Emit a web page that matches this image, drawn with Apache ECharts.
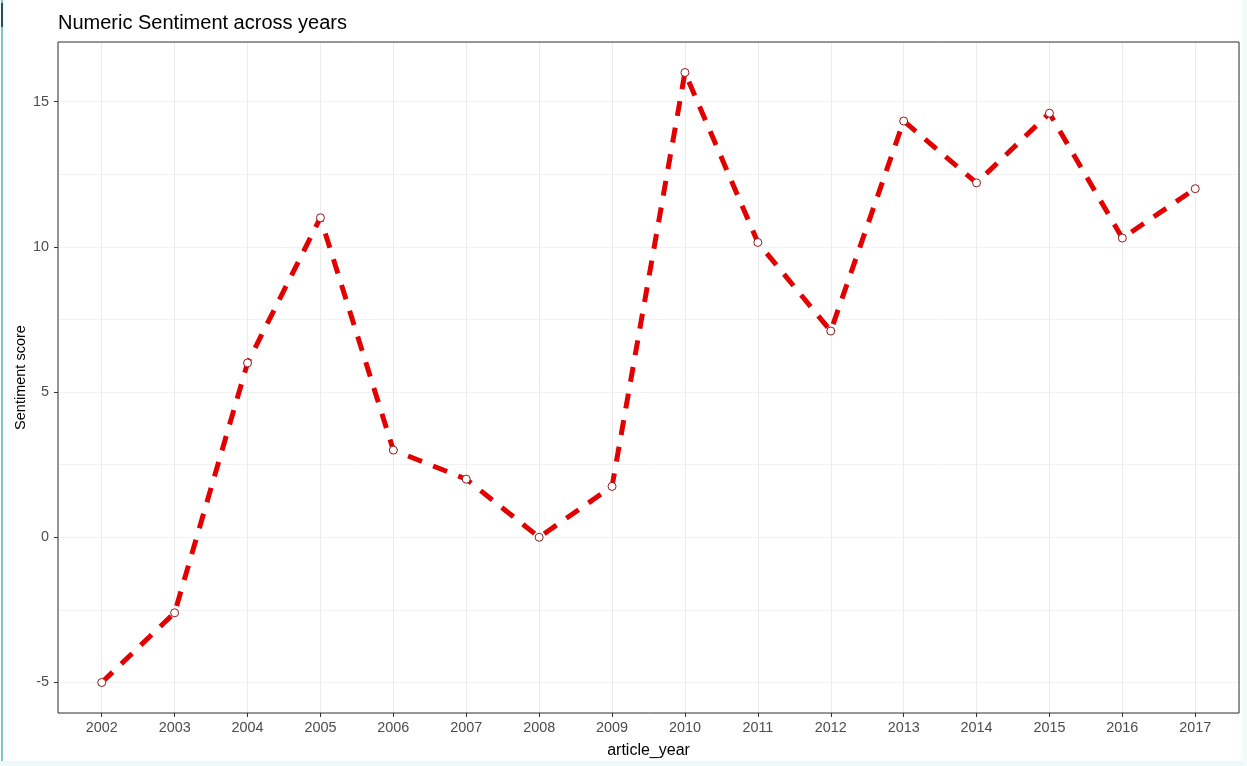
<!DOCTYPE html>
<html>
<head>
<meta charset="utf-8">
<script src="https://cdn.jsdelivr.net/npm/echarts@6/dist/echarts.min.js"></script>
<style>
html,body{margin:0;padding:0;background:#fff;}
#chart{width:1247px;height:766px;}
</style>
</head>
<body>
<div id="chart"></div>
<script>
const years = ['2002','2003','2004','2005','2006','2007','2008','2009','2010','2011','2012','2013','2014','2015','2016','2017'];
const sentiment = [-5, -2.6, 6, 11, 3, 2, 0, 1.75, 16, 10.15, 7.1, 14.33, 12.2, 14.6, 10.3, 12];
const yMajorTicks = [-5, 0, 5, 10, 15];

const seriesData = sentiment.map((v, i) => [i, v]);
const ymin = -6.05, ymax = 17.05;
const FONT = 'Liberation Sans, Arial, sans-serif';

const chart = echarts.init(document.getElementById('chart'), null, {renderer: 'canvas'});
const gridPos = {left: 58, right: 8, top: 42, bottom: 53};
chart.setOption({
  animation: false,
  backgroundColor: '#ffffff',
  title: {
    text: 'Numeric Sentiment across years',
    left: 58, top: 13, padding: 0,
    textStyle: {fontFamily: FONT, fontSize: 20, fontWeight: 'normal', color: '#000'}
  },
  grid: [
    Object.assign({show: true, borderColor: '#333333', borderWidth: 1, backgroundColor: 'transparent', z: 5}, gridPos),
    Object.assign({show: false}, gridPos)
  ],
  xAxis: [
    {
      type: 'value', gridIndex: 0, min: -0.6, max: 15.6,
      minInterval: 1, maxInterval: 1,
      axisLine: {show: false, onZero: false},
      axisTick: {show: true, length: 4, lineStyle: {color: '#333', width: 1}},
      axisLabel: {
        show: true, margin: 8, color: '#4d4d4d', fontFamily: FONT, fontSize: 14.4,
        showMinLabel: false, showMaxLabel: false,
        formatter: v => (Math.abs(v - Math.round(v)) < 1e-6 && years[Math.round(v)] !== undefined) ? years[Math.round(v)] : ''
      },
      splitLine: {show: true, lineStyle: {color: '#ebebeb', width: 1}},
      name: 'article_year', nameLocation: 'middle', nameGap: 30, nameMoveOverlap: false,
      nameTextStyle: {fontFamily: FONT, fontSize: 16, color: '#000'}
    },
    {
      type: 'value', gridIndex: 1, min: -0.6, max: 15.6, show: false
    }
  ],
  yAxis: [
    {
      type: 'value', gridIndex: 0, min: ymin, max: ymax,
      minInterval: 5, maxInterval: 5,
      axisLine: {show: false, onZero: false},
      axisTick: {show: true, length: 4, lineStyle: {color: '#333', width: 1}},
      axisLabel: {
        show: true, margin: 9, color: '#4d4d4d', fontFamily: FONT, fontSize: 14.4,
        showMinLabel: false, showMaxLabel: false,
        formatter: v => yMajorTicks.some(t => Math.abs(t - v) < 1e-6) ? String(Math.round(v)) : ''
      },
      splitLine: {show: true, lineStyle: {color: '#ebebeb', width: 1}},
      name: 'Sentiment score', nameLocation: 'middle', nameGap: 30, nameRotate: 90, nameMoveOverlap: false,
      nameTextStyle: {fontFamily: FONT, fontSize: 14.5, color: '#000'}
    },
    {
      type: 'value', gridIndex: 1, min: ymin, max: ymax,
      minInterval: 2.5, maxInterval: 2.5,
      axisLine: {show: false, onZero: false}, axisTick: {show: false}, axisLabel: {show: false},
      splitLine: {show: true, lineStyle: {color: '#f2f2f2', width: 1}}
    }
  ],
  series: [{
    type: 'line',
    xAxisIndex: 1, yAxisIndex: 1,
    data: seriesData,
    z: 10,
    lineStyle: {color: '#e30000', width: 5, type: [15, 12], cap: 'butt'},
    symbol: 'circle', symbolSize: 8,
    itemStyle: {color: '#ffffff', borderColor: '#8b1a1a', borderWidth: 1},
    emphasis: {disabled: true}
  }],
  graphic: [
    {type: 'rect', left: 1, top: 0, shape: {width: 2, height: 766}, style: {fill: '#7cc6cc'}, z: 100},
    {type: 'rect', left: 1, top: 3, shape: {width: 2, height: 24}, style: {fill: '#1f4f66'}, z: 101},
    {type: 'rect', left: 0, top: 761, shape: {width: 1247, height: 5}, style: {fill: '#eefafa'}, z: 100},
    {type: 'rect', left: 1242, top: 0, shape: {width: 5, height: 766}, style: {fill: '#f4fbfb'}, z: 100}
  ]
});
</script>
</body>
</html>
